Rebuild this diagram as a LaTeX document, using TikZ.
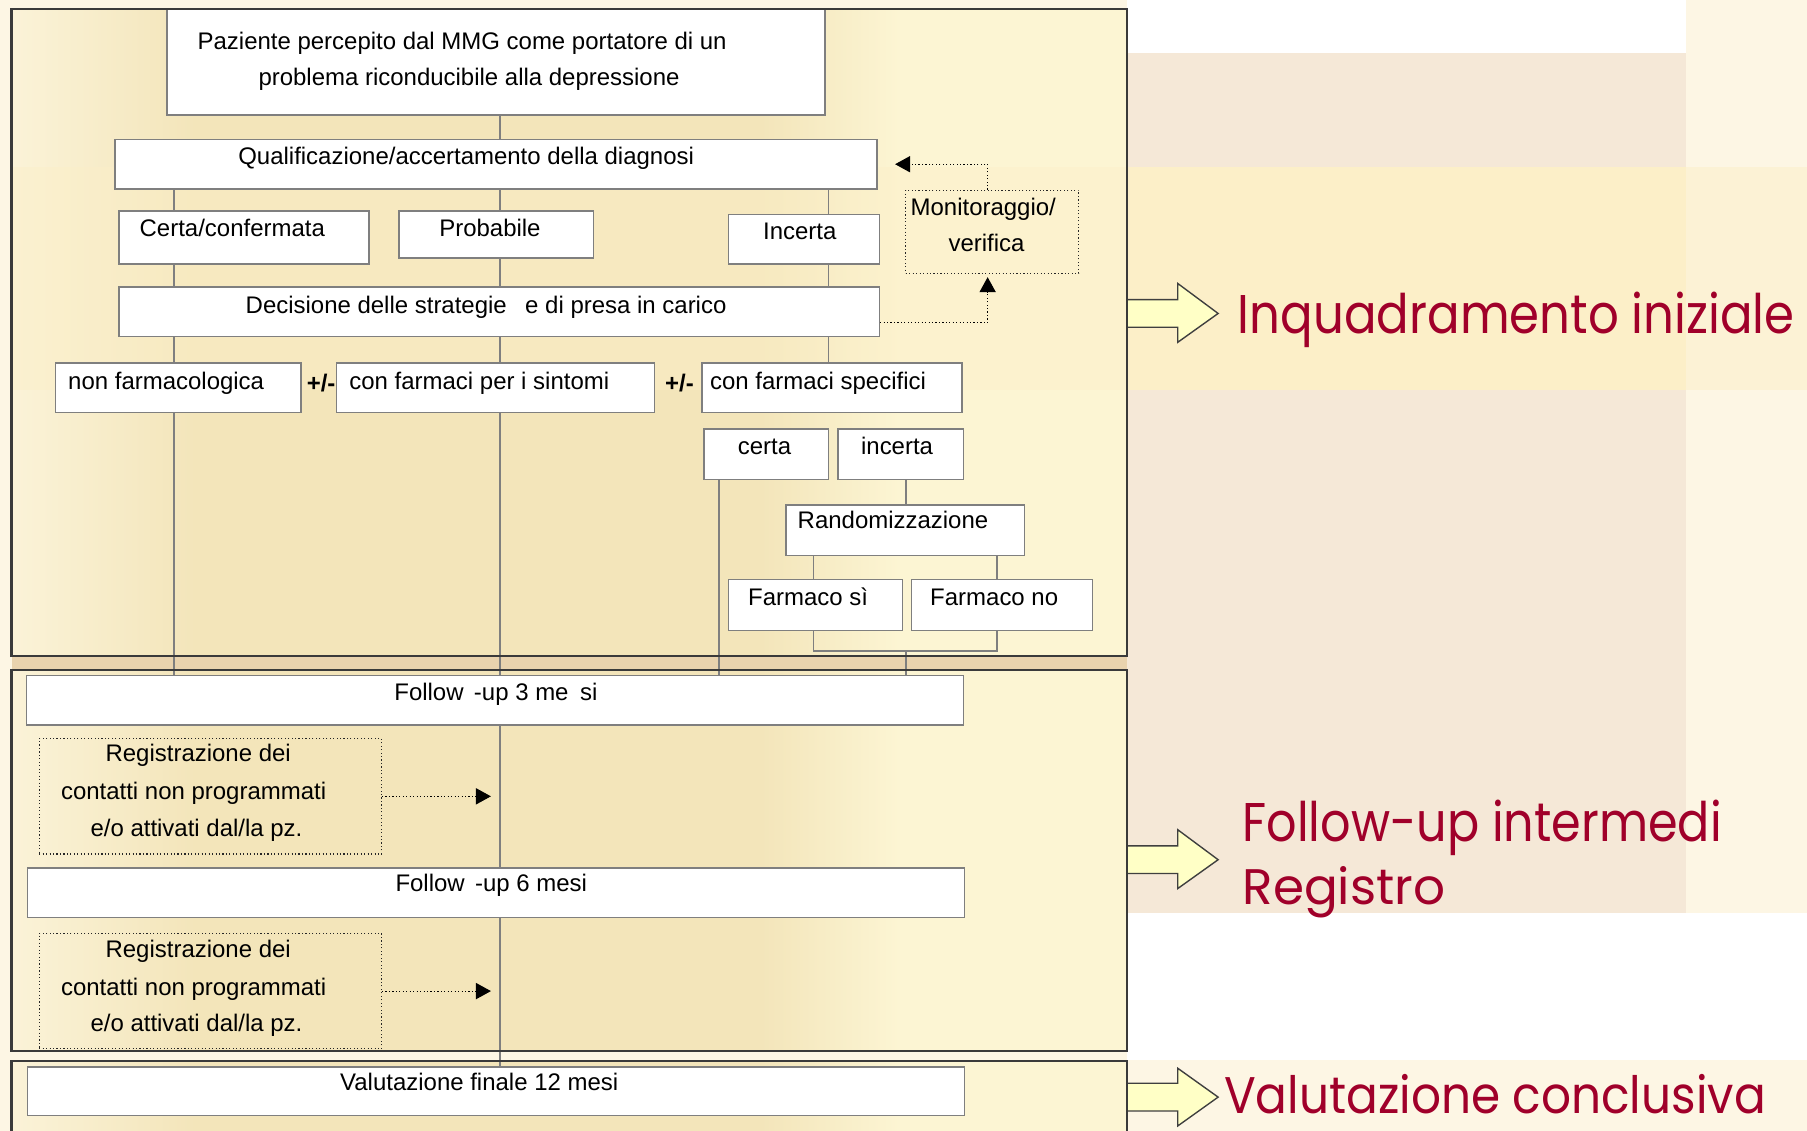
\documentclass[tikz,border=0pt]{standalone}
\usepackage{fontspec}
\setmainfont{Liberation Sans}
\newfontfamily\comicfont{Poppins}
\usetikzlibrary{arrows.meta,fit}
\definecolor{boxline}{HTML}{7F7F7F}
\definecolor{panelline}{HTML}{3A3A3A}
\definecolor{arrowfill}{HTML}{FFFFC6}
\definecolor{arrowline}{HTML}{3F3F3F}
\definecolor{lblred}{HTML}{A0002A}
\definecolor{bgcream}{HTML}{FDF6E4}
\definecolor{bgpeach}{HTML}{F5E8D7}
\definecolor{bgyellow}{HTML}{FCEFC8}
\definecolor{bgtan}{HTML}{E9D3AE}
\definecolor{pnlleft}{HTML}{FBF3D8}
\definecolor{pnlmid}{HTML}{F3E5BA}
\definecolor{pnlright}{HTML}{FCF5D3}
\begin{document}
\begin{tikzpicture}[x=1pt,y=-1pt,
  box/.style={draw=boxline, line width=1.4pt, fill=white, inner sep=0pt, rectangle},
  dotbox/.style={draw=black!85, dotted, line width=1pt, inner sep=0pt, rectangle},
  txt/.style={font=\fontsize{20.8}{32}\selectfont, inner sep=0pt, text=black},
  conn/.style={draw=boxline, line width=1.3pt},
  darr/.style={draw=black, dotted, line width=1pt, -{Triangle[length=13pt,width=14pt]}},
  panel/.style={draw=panelline, line width=1.8pt},
  blockarrow/.style={fill=arrowfill, draw=arrowline, line width=1.2pt, line join=miter},
  redlbl/.style={text=lblred, inner sep=0pt, font=\comicfont\fontsize{40}{48}\selectfont, anchor=base west},
]
\clip (0,0) rectangle (1568,981);
% ---------- background ----------
\fill[bgcream] (0,0) rectangle (1568,981);
\fill[white] (978,0) rectangle (1463,46);
\fill[bgpeach] (978,46) rectangle (1463,145);
\fill[bgyellow] (978,145) rectangle (1463,338);
\fill[bgyellow, opacity=0.5] (1463,145) rectangle (1568,338);
\fill[bgpeach] (978,338) rectangle (1463,792);
\fill[white] (978,792) rectangle (1568,920);
\fill[bgtan] (10,569) rectangle (978,581);
% ---------- panel fills ----------
\foreach \ya/\yb in {8/569, 581/912, 921/995}{
  \fill[pnlmid] (10,\ya) rectangle (978,\yb);
  \shade[left color=pnlleft, right color=pnlmid] (10,\ya) rectangle (170,\yb);
  \shade[left color=pnlmid, right color=pnlright] (660,\ya) rectangle (780,\yb);
  \fill[pnlright] (780,\ya) rectangle (978,\yb);
}
\fill[bgyellow, opacity=0.45] (10,145) rectangle (978,338);
% ---------- block arrows ----------
\path[blockarrow] (978,260) -- (1022,260) -- (1022,246) -- (1057,272) -- (1022,297) -- (1022,284) -- (978,284) -- cycle;
\path[blockarrow] (978,734) -- (1022,734) -- (1022,720) -- (1057,746) -- (1022,771) -- (1022,758) -- (978,758) -- cycle;
\path[blockarrow] (978,940) -- (1022,940) -- (1022,927) -- (1057,952) -- (1022,977) -- (1022,964) -- (978,964) -- cycle;
% ---------- column coordinates ----------
\coordinate (xa) at (151,0);
\coordinate (xb) at (434,0);
\coordinate (xc) at (719,0);
\coordinate (xd) at (624,0);
\coordinate (xe) at (786,0);
\coordinate (xf) at (706,0);
\coordinate (xg) at (865,0);
\coordinate (xm) at (857,0);
\coordinate (yj) at (0,565);
\coordinate (ym) at (0,280);
% ---------- nodes (boxes) ----------
\node[box, fit={(145,8)(716,100)}] (top) {};
\node[box, fit={(100,121)(761,164)}] (qual) {};
\node[box, fit={(103,183)(320,229)}] (certa) {};
\node[box, fit={(346,183)(515,224)}] (prob) {};
\node[box, fit={(632,186)(763,229)}] (inc) {};
\node[dotbox, fit={(786,165)(936,237)}] (mon) {};
\node[box, fit={(103,249)(763,292)}] (dec) {};
\node[box, fit={(48,315)(261,358)}] (nonf) {};
\node[box, fit={(292,315)(568,358)}] (sint) {};
\node[box, fit={(609,315)(835,358)}] (spec) {};
\node[box, fit={(611,372)(719,416)}] (certa2) {};
\node[box, fit={(727,372)(836,416)}] (incerta2) {};
\node[box, fit={(682,438)(889,482)}] (rand) {};
\node[box, fit={(632,503)(783,547)}] (fsi) {};
\node[box, fit={(791,503)(948,547)}] (fno) {};
\node[box, fit={(23,586)(836,629)}] (fu3) {};
\node[dotbox, fit={(34,641)(331,741)}] (reg1) {};
\node[box, fit={(24,753)(837,796)}] (fu6) {};
\node[dotbox, fit={(34,810)(331,910)}] (reg2) {};
\node[box, fit={(24,926)(837,968)}] (val) {};
% ---------- connectors ----------
\draw[conn] (xb |- top.south) -- (xb |- qual.north);
\draw[conn] (xa |- qual.south) -- (xa |- certa.north);
\draw[conn] (xb |- qual.south) -- (xb |- prob.north);
\draw[conn] (xc |- qual.south) -- (xc |- inc.north);
\draw[conn] (xa |- certa.south) -- (xa |- dec.north);
\draw[conn] (xb |- prob.south) -- (xb |- dec.north);
\draw[conn] (xc |- inc.south) -- (xc |- dec.north);
\draw[conn] (xa |- dec.south) -- (xa |- nonf.north);
\draw[conn] (xb |- dec.south) -- (xb |- sint.north);
\draw[conn] (xc |- dec.south) -- (xc |- spec.north);
\draw[conn] (xa |- nonf.south) -- (xa |- fu3.north);
\draw[conn] (xb |- sint.south) -- (xb |- fu3.north);
\draw[conn] (xd |- certa2.south) -- (xd |- fu3.north);
\draw[conn] (xe |- incerta2.south) -- (xe |- rand.north);
\draw[conn] (xf |- rand.south) -- (xf |- fsi.north);
\draw[conn] (xg |- rand.south) -- (xg |- fno.north);
\draw[conn] (xf |- fsi.south) -- (xf |- yj) -- (xg |- yj) -- (xg |- fno.south);
\draw[conn] (xe |- yj) -- (xe |- fu3.north);
\draw[conn] (xb |- fu3.south) -- (xb |- fu6.north);
\draw[conn] (xb |- fu6.south) -- (xb |- val.north);
% ---------- panel borders ----------
\draw[panel] (10,8) rectangle (978,569);
\draw[panel] (10,581) rectangle (978,912);
\draw[panel] (10,921) rectangle (978,995);
% ---------- dotted arrows ----------
\draw[darr] (xm |- mon.north) |- ([xshift=15pt]qual.east);
\draw[darr, shorten >=3pt] (dec.east |- ym) -| (xm |- mon.south);
\draw[darr, shorten >=8pt] (reg1.east) -- (xb |- reg1.east);
\draw[darr, shorten >=8pt] (reg2.east) -- (xb |- reg2.east);
% ---------- texts ----------
\node[txt, anchor=base] (t1a) at (401,43) {Paziente percepito dal MMG come portatore di un};
\node[txt, anchor=base] (t1b) at (407,74.5) {problema riconducibile alla depressione};
\node[txt, anchor=base] (tqual) at (404.5,143) {Qualificazione/accertamento della diagnosi};
\node[txt, anchor=base west] (tcerta) at (121,205) {Certa/confermata};
\node[txt, anchor=base west] (tprob) at (381,205) {Probabile};
\node[txt, anchor=base west] (tinc) at (662,207.5) {Incerta};
\node[txt, anchor=base west] (tmon1) at (790,187) {Monitoraggio/};
\node[txt, anchor=base] (tmon2) at (856,218.5) {verifica};
\node[txt, anchor=base west] (tdec) at (213,272) {Decisione delle strategie\hspace{16pt}e di presa in carico};
\node[txt, anchor=base west] (tnonf) at (59,338) {non farmacologica};
\node[txt, anchor=base west] (pm1) at (266,340) {\textbf{+/-}};
\node[txt, anchor=base west] (tsint) at (303,338) {con farmaci per i sintomi};
\node[txt, anchor=base west] (pm2) at (577,340) {\textbf{+/-}};
\node[txt, anchor=base west] (tspec) at (616,338) {con farmaci specifici};
\node[txt, anchor=base west] (tcerta2) at (640,394) {certa};
\node[txt, anchor=base west] (tinc2) at (747,394) {incerta};
\node[txt, anchor=base west] (trand) at (692,459) {Randomizzazione};
\node[txt, anchor=base west] (tfsi) at (649,525) {Farmaco sì};
\node[txt, anchor=base west] (tfno) at (807,525) {Farmaco no};
\node[txt, anchor=base west] (tfu3) at (342,607.5) {Follow\hspace{9pt}-up 3 me\hspace{10pt}si};
\node[txt, anchor=base] (tr1a) at (172,661) {Registrazione dei};
\node[txt, anchor=base] (tr1b) at (168,694) {contatti non programmati};
\node[txt, anchor=base] (tr1c) at (170.5,726) {e/o attivati dal/la pz.};
\node[txt, anchor=base west] (tfu6) at (343,774) {Follow\hspace{9pt}-up 6 mesi};
\node[txt, anchor=base] (tr2a) at (172,831) {Registrazione dei};
\node[txt, anchor=base] (tr2b) at (168,863.5) {contatti non programmati};
\node[txt, anchor=base] (tr2c) at (170.5,895) {e/o attivati dal/la pz.};
\node[txt, anchor=base west] (tval) at (295,946) {Valutazione finale 12 mesi};
% ---------- phase labels ----------
\node[redlbl] (lbl1) at (1074,289) {\resizebox{483pt}{36pt}{Inquadramento iniziale}};
\node[redlbl] (lbl2) at (1078,730) {\resizebox{416pt}{36pt}{Follow-up intermedi}};
\node[redlbl] (lbl3) at (1078,785) {\resizebox{176pt}{33pt}{Registro}};
\node[redlbl] (lbl4) at (1062,966) {\resizebox{470pt}{34pt}{Valutazione conclusiva}};
\end{tikzpicture}
\end{document}
